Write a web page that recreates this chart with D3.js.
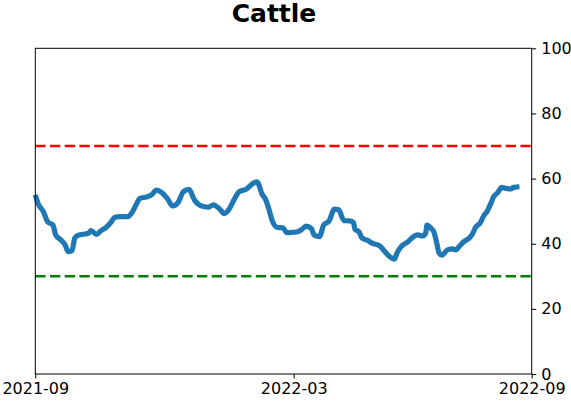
<!DOCTYPE html>
<html lang="en">
<head>
    <meta charset="UTF-8">
    <title>Cattle</title>
    <script src="https://d3js.org/d3.v7.min.js"></script>
    <style>
        body { margin: 0; background: #fff; }
        svg text { font-family: "DejaVu Sans", sans-serif; }
    </style>
</head>
<body>
    <div id="chart"></div>
    <script>
        // Readings of the series
        const dates = [
            "2021-09-01", "2021-09-03", "2021-09-07", "2021-09-10", "2021-09-14", "2021-09-16",
            "2021-09-20", "2021-09-23", "2021-09-25", "2021-09-28", "2021-09-30", "2021-10-02",
            "2021-10-06", "2021-10-10", "2021-10-12", "2021-10-16", "2021-10-19", "2021-10-23",
            "2021-10-27", "2021-10-29", "2021-11-02", "2021-11-08", "2021-11-11", "2021-11-14",
            "2021-11-17", "2021-11-22", "2021-11-26", "2021-11-29", "2021-12-03", "2021-12-07",
            "2021-12-11", "2021-12-15", "2021-12-19", "2021-12-23", "2021-12-27", "2022-01-01",
            "2022-01-06", "2022-01-10", "2022-01-14", "2022-01-18", "2022-01-21", "2022-01-25",
            "2022-01-29", "2022-02-03", "2022-02-08", "2022-02-11", "2022-02-15", "2022-02-17",
            "2022-02-20", "2022-02-22", "2022-02-26", "2022-03-02", "2022-03-05", "2022-03-09",
            "2022-03-13", "2022-03-16", "2022-03-19", "2022-03-23", "2022-03-25", "2022-03-29",
            "2022-04-01", "2022-04-05", "2022-04-09", "2022-04-12", "2022-04-16", "2022-04-20",
            "2022-04-23", "2022-04-24", "2022-04-27", "2022-04-29", "2022-05-03", "2022-05-07",
            "2022-05-12", "2022-05-15", "2022-05-19", "2022-05-23", "2022-05-25", "2022-05-28",
            "2022-06-02", "2022-06-05", "2022-06-09", "2022-06-13", "2022-06-15", "2022-06-16",
            "2022-06-19", "2022-06-21", "2022-06-23", "2022-06-25", "2022-06-27", "2022-07-01",
            "2022-07-05", "2022-07-07", "2022-07-10", "2022-07-13", "2022-07-17", "2022-07-19",
            "2022-07-22", "2022-07-25", "2022-07-28", "2022-07-30", "2022-08-02", "2022-08-04",
            "2022-08-07", "2022-08-10", "2022-08-13", "2022-08-16", "2022-08-19", "2022-08-23"
        ];
        const values = [
            55.0, 52.4, 49.8, 46.8, 45.7, 42.7,
            41.1, 39.6, 37.6, 37.9, 41.7, 42.5,
            42.9, 43.2, 44.0, 42.9, 43.9, 45.0,
            46.8, 48.0, 48.3, 48.3, 49.5, 51.9,
            53.9, 54.4, 55.2, 56.5, 55.7, 53.9,
            51.6, 52.7, 56.0, 56.7, 53.4, 51.6,
            51.2, 51.9, 50.9, 49.3, 50.3, 53.4,
            56.0, 56.7, 58.5, 59.0, 55.0, 53.9,
            50.3, 47.3, 45.0, 44.9, 43.4, 43.5,
            43.7, 44.4, 45.4, 44.7, 42.7, 42.2,
            45.7, 47.0, 50.6, 50.4, 47.1, 47.0,
            46.5, 44.4, 43.7, 41.8, 41.1, 40.1,
            39.4, 38.1, 36.2, 35.3, 37.2, 39.1,
            40.6, 41.8, 42.7, 42.4, 43.2, 45.7,
            44.7, 43.7, 40.6, 37.1, 36.5, 38.1,
            38.4, 38.1, 39.3, 40.6, 41.7, 42.7,
            45.2, 46.3, 48.8, 49.8, 52.4, 54.4,
            55.7, 57.3, 57.0, 56.8, 57.3, 57.5
        ];
        const xDomain = ["2021-09-01", "2022-09-01"];
        const xTickDates = ["2021-09-01", "2022-03-10", "2022-09-01"];
        const yTicks = [0, 20, 40, 60, 80, 100];
        const upperLevel = 70;
        const lowerLevel = 30;
        const title = "Cattle";

        const W = 571, H = 402;
        const margin = {top: 48.3, right: 39.3, bottom: 28, left: 35.3};
        const width = W - margin.left - margin.right;
        const height = H - margin.top - margin.bottom;

        const parse = d3.timeParse("%Y-%m-%d");
        const data = dates.map((d, i) => ({date: parse(d), value: values[i]}));

        const x = d3.scaleTime()
            .domain(xDomain.map(parse))
            .range([0, width]);
        const y = d3.scaleLinear()
            .domain([0, 100])
            .range([height, 0]);

        const svg = d3.select("#chart")
            .append("svg")
            .attr("width", W)
            .attr("height", H);

        svg.append("text")
            .attr("x", 274)
            .attr("y", 22)
            .attr("text-anchor", "middle")
            .attr("font-size", "25px")
            .attr("font-weight", "bold")
            .text(title);

        const g = svg.append("g")
            .attr("transform", `translate(${margin.left},${margin.top})`);

        // Threshold lines
        g.append("line")
            .attr("x1", 0).attr("x2", width)
            .attr("y1", y(upperLevel)).attr("y2", y(upperLevel))
            .attr("stroke", "#ff0000")
            .attr("stroke-width", 2.6)
            .attr("stroke-dasharray", "10.3,4.4");
        g.append("line")
            .attr("x1", 0).attr("x2", width)
            .attr("y1", y(lowerLevel)).attr("y2", y(lowerLevel))
            .attr("stroke", "#008000")
            .attr("stroke-width", 2.6)
            .attr("stroke-dasharray", "10.3,4.4");

        // Series line
        const line = d3.line()
            .x(d => x(d.date))
            .y(d => y(d.value))
            .curve(d3.curveMonotoneX);
        g.append("path")
            .datum(data)
            .attr("fill", "none")
            .attr("stroke", "#1f77b4")
            .attr("stroke-width", 5.2)
            .attr("stroke-linejoin", "round")
            .attr("stroke-linecap", "butt")
            .attr("d", line);

        // Frame
        g.append("rect")
            .attr("width", width)
            .attr("height", height)
            .attr("fill", "none")
            .attr("stroke", "#000")
            .attr("stroke-width", 1);

        // Axes
        const xAxis = d3.axisBottom(x)
            .tickValues(xTickDates.map(parse))
            .tickFormat(d3.timeFormat("%Y-%m"))
            .tickSize(4.5)
            .tickPadding(4);
        const xg = g.append("g")
            .attr("transform", `translate(0,${height})`)
            .call(xAxis);

        const yAxis = d3.axisRight(y)
            .tickValues(yTicks)
            .tickSize(4.5)
            .tickPadding(5);
        const yg = g.append("g")
            .attr("transform", `translate(${width},0)`)
            .call(yAxis);

        [xg, yg].forEach(a => {
            a.select(".domain").remove();
            a.selectAll("text")
                .attr("font-size", "16px")
                .attr("fill", "#000")
                .attr("font-family", "DejaVu Sans, sans-serif");
            a.selectAll("line").attr("stroke", "#000");
        });
    </script>
</body>
</html>
